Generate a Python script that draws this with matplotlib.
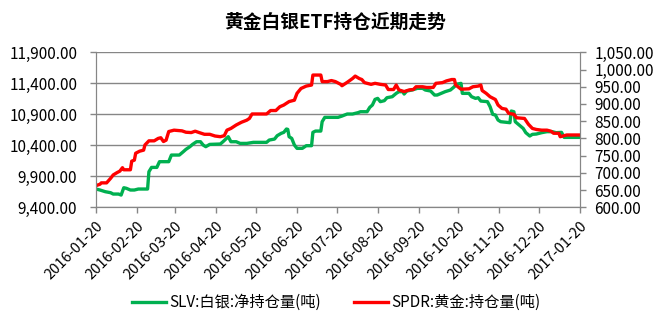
import pandas as pd
import numpy as np
import matplotlib.pyplot as plt
from matplotlib.ticker import FixedLocator, MultipleLocator, FuncFormatter

plt.rcParams['font.family'] = ['Noto Sans CJK SC', 'DejaVu Sans']

# ----------------- 数据 -----------------
start = pd.Timestamp("2016-01-20")

# SLV 白银净持仓量(吨), 左轴
slv_days = [0, 3, 7, 11, 13, 17, 19, 21, 23, 26, 29, 32, 39, 40, 42, 46, 48, 55, 57, 63,
            66, 68, 71, 73, 76, 79, 81, 83, 86, 94, 96, 100, 102, 106, 109, 114, 119, 129,
            131, 135, 137, 140, 142, 144, 145, 146, 148, 150, 152, 156, 159, 163, 164, 166,
            170, 171, 173, 183, 186, 188, 190, 194, 198, 200, 205, 207, 209, 211, 213, 215,
            218, 220, 224, 227, 229, 232, 233, 235, 239, 243, 247, 249, 253, 256, 258, 261,
            264, 268, 271, 272, 276, 277, 282, 284, 287, 289, 291, 296, 298, 300, 302, 304,
            306, 313, 314, 316, 317, 320, 323, 325, 328, 330, 333, 337, 341, 345, 348, 352,
            354, 366]
slv_vals = [9695, 9679, 9652, 9636, 9614, 9614, 9598, 9716, 9706, 9679, 9679, 9695, 9695,
            9974, 10044, 10044, 10136, 10136, 10243, 10243, 10297, 10335, 10378, 10415,
            10458, 10458, 10405, 10378, 10415, 10421, 10458, 10539, 10458, 10458, 10431,
            10431, 10448, 10448, 10485, 10501, 10555, 10593, 10609, 10663, 10657, 10539,
            10512, 10405, 10351, 10351, 10394, 10394, 10609, 10630, 10630, 10781, 10851,
            10851, 10872, 10889, 10905, 10905, 10926, 10942, 10942, 11012, 11050, 11141,
            11157, 11104, 11120, 11168, 11184, 11238, 11265, 11265, 11227, 11276, 11292,
            11319, 11319, 11292, 11276, 11211, 11211, 11238, 11265, 11292, 11346, 11383,
            11399, 11238, 11238, 11184, 11157, 11168, 11114, 11104, 11023, 10899, 10889,
            10808, 10781, 10765, 10953, 10942, 10781, 10727, 10673, 10604, 10550, 10577,
            10582, 10604, 10620, 10620, 10604, 10609, 10528, 10528]

# SPDR 黄金持仓量(吨), 右轴
spdr_days = [0, 3, 4, 8, 11, 13, 16, 18, 20, 21, 26, 27, 29, 30, 33, 36, 37, 40, 44, 47,
             49, 51, 53, 55, 59, 65, 68, 72, 75, 78, 82, 86, 90, 94, 97, 99, 102, 106, 110,
             114, 116, 118, 129, 132, 136, 139, 142, 146, 150, 152, 155, 159, 163, 164, 170,
             171, 175, 178, 181, 185, 186, 190, 194, 196, 199, 201, 203, 208, 211, 215, 219,
             221, 225, 227, 229, 233, 237, 240, 242, 247, 250, 255, 257, 262, 265, 269, 271,
             272, 276, 282, 285, 289, 291, 292, 295, 298, 302, 304, 307, 310, 312, 316, 318,
             324, 327, 330, 333, 337, 341, 344, 346, 350, 351, 356, 366]
spdr_vals = [663, 667, 671, 671, 684, 694, 701, 705, 715, 709, 709, 734, 737, 757, 763, 766,
             781, 793, 793, 800, 802, 791, 795, 820, 824, 822, 818, 817, 821, 817, 812, 812,
             807, 805, 808, 824, 829, 839, 847, 853, 858, 871, 871, 881, 881, 892, 897, 907,
             911, 931, 945, 952, 955, 984, 984, 965, 965, 968, 965, 957, 953, 963, 974, 981,
             974, 971, 962, 957, 960, 957, 955, 942, 942, 955, 941, 936, 941, 942, 950, 950,
             948, 948, 960, 962, 967, 971, 971, 955, 943, 944, 950, 952, 955, 939, 931, 921,
             913, 897, 887, 885, 873, 870, 860, 858, 841, 829, 826, 824, 824, 821, 815, 815,
             805, 810, 810]

left_ticks = [9400, 9900, 10400, 10900, 11400, 11900]
right_ticks = [600, 650, 700, 750, 800, 850, 900, 950, 1000, 1050]

slv_dates = start + pd.to_timedelta(slv_days, unit="D")
spdr_dates = start + pd.to_timedelta(spdr_days, unit="D")

# 每月20日作为横轴刻度
tick_dates = [start + pd.DateOffset(months=i) for i in range(13)]
tick_labels = [d.strftime("%Y-%m-%d") for d in tick_dates]

# ----------------- 绘图 -----------------
fig = plt.figure(figsize=(6.7, 3.27), dpi=100)
ax = fig.add_axes([0.1433, 0.366, 0.7224, 0.474])
ax2 = ax.twinx()

grid_c = "#868686"
l1, = ax.plot(slv_dates, slv_vals, color="#00B050", lw=2.4, label="SLV:白银:净持仓量(吨)")
l2, = ax2.plot(spdr_dates, spdr_vals, color="#FF0000", lw=2.4, label="SPDR:黄金:持仓量(吨)")

fmt = FuncFormatter(lambda v, p: f"{v:,.2f}")
ax.set_ylim(left_ticks[0], left_ticks[-1])
ax.yaxis.set_major_locator(FixedLocator(left_ticks))
ax.yaxis.set_major_formatter(fmt)
ax2.set_ylim(right_ticks[0], right_ticks[-1])
ax2.yaxis.set_major_locator(FixedLocator(right_ticks))
ax2.yaxis.set_major_formatter(fmt)

ax.set_xlim(tick_dates[0], tick_dates[-1])
ax.set_xticks(tick_dates)
ax.set_xticklabels(tick_labels, rotation=45, ha="right", rotation_mode="anchor")

ax.grid(axis="y", color=grid_c, lw=1)
ax.set_axisbelow(True)

for a in (ax, ax2):
    for s in a.spines.values():
        s.set_color(grid_c)
    a.spines["top"].set_visible(False)
    a.tick_params(colors=grid_c, labelcolor="black", length=4.5, labelsize=11, width=1)
ax.tick_params(axis="y", pad=9)
ax2.tick_params(axis="y", pad=6)
ax.tick_params(axis="x", pad=4, labelsize=10.5)

fig.text(0.5, 0.933, "黄金白银ETF持仓近期走势", ha="center", va="center",
         fontsize=13.5, fontweight="bold")

fig.legend(handles=[l1, l2], loc="center", bbox_to_anchor=(0.502, 0.075), ncol=2,
           frameon=False, fontsize=11, handlelength=2.2, columnspacing=2.2, handletextpad=0.2)

fig.savefig("out.png", dpi=100)
